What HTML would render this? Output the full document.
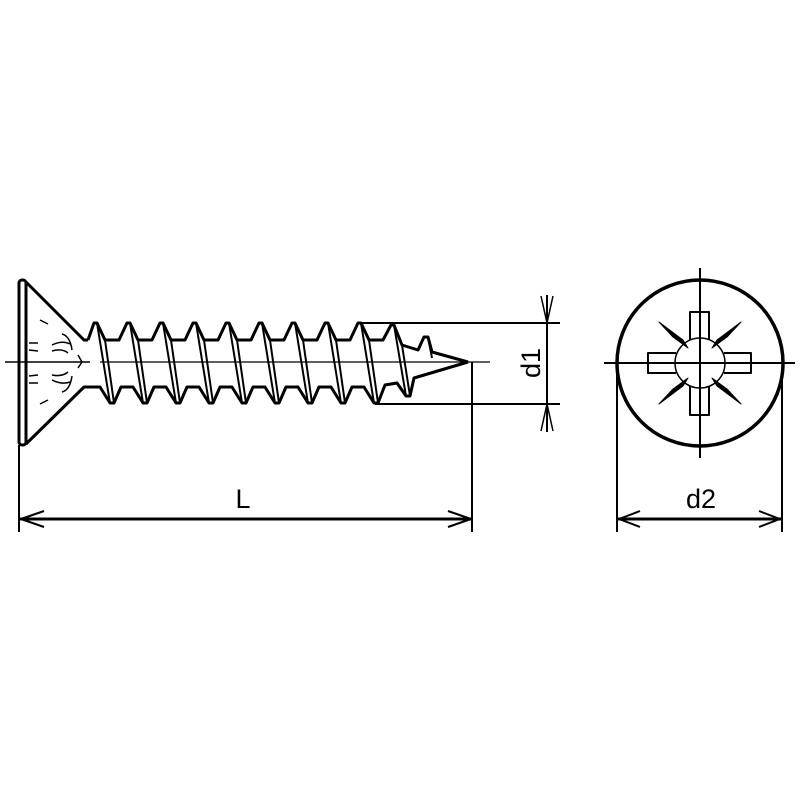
<!DOCTYPE html>
<html><head><style>body{margin:0;background:#fff}svg{display:block}</style></head><body>
<svg width="800" height="800" viewBox="0 0 800 800" xmlns="http://www.w3.org/2000/svg">
<rect width="800" height="800" fill="#fff"/>
<g fill="none" stroke="#000" stroke-linejoin="round">
<rect x="19" y="280" width="7" height="165" rx="3" stroke-width="3"/>
<path d="M26 282 L84 340 L88 340 M26 444 L84 387 L88 387" stroke-width="3"/>
<g stroke-width="1.5">
<path d="M40 320 L48 324 M40 404 L48 400 M29 343 L38 343 M29 383 L38 383 M29 350 L38 351 M29 376 L38 375"/>
<path d="M52 345 Q62 340 70 344 M52 351 Q62 348 68 353 M52 380 Q62 385 70 382 M52 375 Q62 377 68 372 M62 334 Q70 336 72 350 M62 392 Q70 390 72 376 M78 355 L82 362 L78 368"/>
</g>
<line x1="5" y1="362" x2="90" y2="362" stroke-width="1.5"/>
<line x1="100" y1="362" x2="490" y2="362" stroke-width="1.2"/>
<path d="M88 340 L94 323 L97 323 L105 340 L119 340 L127 323 L130 323 L138 340 L152 340 L160 323 L163 323 L171 340 L185 340 L193 323 L196 323 L204 340 L218 340 L226 323 L229 323 L237 340 L251 340 L259 323 L262 323 L270 340 L284 340 L292 323 L295 323 L303 340 L317 340 L325 323 L328 323 L336 340 L350 340 L358 323 L361 323 L369 340 L383 340 L391 325 L394 325 L402 345 L418 350 L424 337 L428 337 L432 352 L468 362" stroke-width="3"/>
<path d="M88 387 L100 387 L110 403 L114 403 L121 387 L133 387 L143 403 L147 403 L154 387 L166 387 L176 403 L180 403 L187 387 L199 387 L209 403 L213 403 L220 387 L232 387 L242 403 L246 403 L253 387 L265 387 L275 403 L279 403 L286 387 L298 387 L308 403 L312 403 L319 387 L331 387 L341 403 L345 403 L352 387 L364 387 L374 403 L378 403 L385 385 L397 383 L406 396 L410 396 L414 378 L468 362" stroke-width="3"/>
<g stroke-width="2">
<path d="M97 323 L110 403 M105 340 L114 403 M130 323 L143 403 M138 340 L147 403 M163 323 L176 403 M171 340 L180 403 M196 323 L209 403 M204 340 L213 403 M229 323 L242 403 M237 340 L246 403 M262 323 L275 403 M270 340 L279 403 M295 323 L308 403 M303 340 L312 403 M328 323 L341 403 M336 340 L345 403 M361 323 L374 403 M369 340 L378 403 M394 325 L406 396 M402 345 L410 396 M428 337 L432 358"/>
</g>
<path d="M360 323 L560 323 M375 404 L560 404" stroke-width="2"/>
<line x1="547" y1="295" x2="547" y2="432" stroke-width="2"/>
<path d="M541 296 L547 323 L553 296 M541 431 L547 404 L553 431" stroke-width="1.5"/>
<line x1="472" y1="362" x2="472" y2="532" stroke-width="2"/>
<line x1="19" y1="445" x2="19" y2="532" stroke-width="2"/>
<line x1="20" y1="519" x2="471" y2="519" stroke-width="3"/>
<path d="M44 511 L21 519 L44 527 M448 511 L471 519 L448 527" stroke-width="2"/>
<circle cx="700" cy="363" r="83" stroke-width="3.5"/>
<line x1="604" y1="363" x2="795" y2="363" stroke-width="2"/>
<line x1="700" y1="268" x2="700" y2="458" stroke-width="2"/>
<g stroke-width="2">
<path d="M690 340 L690 312 L709 312 L709 340 M690 386 L690 415 L709 415 L709 386 M676 353 L648 353 L648 373 L676 373 M724 353 L751 353 L751 373 L724 373"/>
<circle cx="700" cy="363" r="25" stroke-width="1.5"/>
<path d="M659 322 L683 340 L688 348 L673 337 Z M741 322 L717 340 L712 348 L727 337 Z M659 404 L683 386 L688 378 L673 389 Z M741 404 L717 386 L712 378 L727 389 Z" fill="#000" stroke-width="1"/>
<path d="M694 363 L706 363 M700 357 L700 369" stroke-width="1.5"/>
</g>
<path d="M617 375 L617 532 M782 375 L782 532" stroke-width="2"/>
<line x1="618" y1="519" x2="781" y2="519" stroke-width="3"/>
<path d="M640 511 L619 519 L640 527 M759 511 L780 519 L759 527" stroke-width="2"/>
</g>
<g font-family="Liberation Sans, sans-serif" font-size="27" fill="#000" text-anchor="middle">
<text x="243" y="508">L</text>
<text x="701" y="508">d2</text>
<text x="0" y="0" transform="translate(540 363) rotate(-90)">d1</text>
</g>
</svg>
</body></html>
